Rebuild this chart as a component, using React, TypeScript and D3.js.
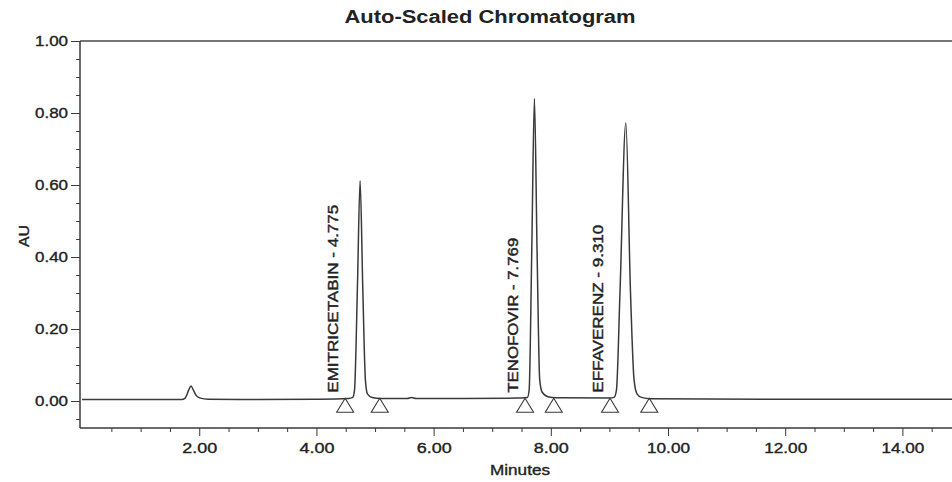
import React, { useEffect, useRef } from 'react'
import * as d3 from 'd3'

const width = 952
const height = 482

// trace: retention time (min) and absorbance (AU)
const traceTime = [
  0.0, 1.0, 1.7, 1.76, 1.82, 1.86, 1.9, 1.95, 2.02, 2.15, 3.0, 4.0, 4.55,
  4.62, 4.65, 4.7, 4.745, 4.79, 4.835, 4.87, 4.95, 5.1, 5.55, 5.62, 5.7, 6.5,
  7.4, 7.6, 7.63, 7.675, 7.72, 7.765, 7.81, 7.85, 7.95, 8.1, 9.0,
  9.08, 9.12, 9.18, 9.28, 9.36, 9.42, 9.47, 9.55, 9.7, 12.0, 15.0,
]
const traceAU = [
  0.004, 0.004, 0.004, 0.008, 0.03, 0.042, 0.03, 0.015, 0.008, 0.005, 0.004, 0.005, 0.007,
  0.01, 0.03, 0.32, 0.612, 0.32, 0.06, 0.02, 0.01, 0.007, 0.007, 0.01, 0.007, 0.007,
  0.008, 0.01, 0.03, 0.42, 0.84, 0.42, 0.06, 0.025, 0.012, 0.009, 0.008,
  0.01, 0.03, 0.3, 0.772, 0.3, 0.06, 0.02, 0.01, 0.006, 0.005, 0.005,
]

const peakNames = ['EMITRICETABIN - 4.775', 'TENOFOVIR - 7.769', 'EFFAVERENZ - 9.310']
const peakStart = [4.49, 7.56, 9.01]
const peakEnd = [5.08, 8.05, 9.68]
const labelLengths = [188, 155, 168]

const yMajor = [0, 0.2, 0.4, 0.6, 0.8, 1.0]
const yMinor = [-0.05, 0.05, 0.1, 0.15, 0.25, 0.3, 0.35, 0.45, 0.5, 0.55, 0.65, 0.7, 0.75, 0.85, 0.9, 0.95]
const xMajor = [2, 4, 6, 8, 10, 12, 14]
const xMinor = [0.5, 1, 1.5, 2.5, 3, 3.5, 4.5, 5, 5.5, 6.5, 7, 7.5, 8.5, 9, 9.5, 10.5, 11, 11.5, 12.5, 13, 13.5, 14.5]

const left = 80
const top = 41
const bottom = 428
const ink = '#3a3a3a'
const font = 'Arial, "Liberation Sans", sans-serif'

const xScale = d3.scaleLinear().domain([-0.035, 15]).range([left, 961])
const yScale = d3.scaleLinear().domain([-0.075, 1.0]).range([bottom, top])

function App() {
  const xRef = useRef<SVGGElement>(null)
  const yRef = useRef<SVGGElement>(null)

  useEffect(() => {
    const xg = d3.select(xRef.current)
    xg.selectAll('*').remove()
    xg.append('g').call(d3.axisBottom(xScale).tickValues(xMinor).tickSize(4).tickFormat(() => ''))
    xg.append('g').call(
      d3.axisBottom(xScale).tickValues(xMajor).tickSize(8).tickPadding(7).tickFormat(d3.format('.2f'))
    )
    xg.selectAll('path.domain').remove()
    xg.selectAll('line').attr('stroke', ink)
    xg.selectAll<SVGTextElement, number>('text')
      .attr('font-family', font).attr('font-size', 14).attr('fill', '#222')
      .attr('stroke', '#222').attr('stroke-width', 0.35)
      .attr('textLength', d => (d >= 10 ? 43 : 35)).attr('lengthAdjust', 'spacingAndGlyphs')

    const yg = d3.select(yRef.current)
    yg.selectAll('*').remove()
    yg.append('g').call(d3.axisLeft(yScale).tickValues(yMinor).tickSize(4).tickFormat(() => ''))
    yg.append('g').call(
      d3.axisLeft(yScale).tickValues(yMajor).tickSize(9).tickPadding(3).tickFormat(d3.format('.2f'))
    )
    yg.selectAll('path.domain').remove()
    yg.selectAll('line').attr('stroke', ink)
    yg.selectAll('text')
      .attr('font-family', font).attr('font-size', 14).attr('fill', '#222')
      .attr('stroke', '#222').attr('stroke-width', 0.35)
      .attr('textLength', 33).attr('lengthAdjust', 'spacingAndGlyphs')
  }, [])

  const points: [number, number][] = traceTime.map((t, i) => [t, traceAU[i]])
  const line = d3.line<[number, number]>()
    .x(d => xScale(d[0]))
    .y(d => yScale(d[1]))
    .curve(d3.curveMonotoneX)

  const markers = peakStart.concat(peakEnd)

  return (
    <svg width={width} height={height}
      style={{ position: 'absolute', left: 0, top: 0, background: '#fff' }}>
      <text x={490} y={23} textAnchor="middle" fontFamily={font} fontWeight="bold"
        fontSize={18} fill="#222" textLength={291} lengthAdjust="spacingAndGlyphs">
        Auto-Scaled Chromatogram
      </text>

      {/* frame */}
      <line x1={left} x2={width} y1={top} y2={top} stroke="#777" strokeWidth={2} />
      <line x1={left} x2={left} y1={top} y2={bottom} stroke={ink} strokeWidth={1.5} />
      <line x1={left} x2={width} y1={bottom} y2={bottom} stroke={ink} strokeWidth={1.5} />

      <g ref={xRef} transform={`translate(0,${bottom})`} />
      <g ref={yRef} transform={`translate(${left},0)`} />

      <text x={520} y={475} textAnchor="middle" fontFamily={font} fontSize={14} fill="#222"
        stroke="#222" strokeWidth={0.35}
        textLength={60} lengthAdjust="spacingAndGlyphs">Minutes</text>
      <text transform={`translate(29,236) rotate(-90)`} textAnchor="middle" fontFamily={font}
        fontSize={14} fill="#222" stroke="#222" strokeWidth={0.35}
        textLength={22} lengthAdjust="spacingAndGlyphs">AU</text>

      <path d={line(points) || ''} fill="none" stroke={ink} strokeWidth={1.5} />

      {markers.map((t, i) => (
        <path key={i} d="M0,-7 L8.5,7 L-8.5,7 Z"
          transform={`translate(${xScale(t)},${yScale(-0.012)})`}
          fill="none" stroke={ink} strokeWidth={1.1} />
      ))}

      {peakNames.map((name, i) => (
        <text key={name}
          transform={`translate(${xScale(peakStart[i]) - 7},${yScale(0.023)}) rotate(-90)`}
          fontFamily={font} fontSize={14} fill="#222" stroke="#222" strokeWidth={0.4}
          textLength={labelLengths[i]} lengthAdjust="spacingAndGlyphs">
          {name}
        </text>
      ))}
    </svg>
  )
}

export default App
